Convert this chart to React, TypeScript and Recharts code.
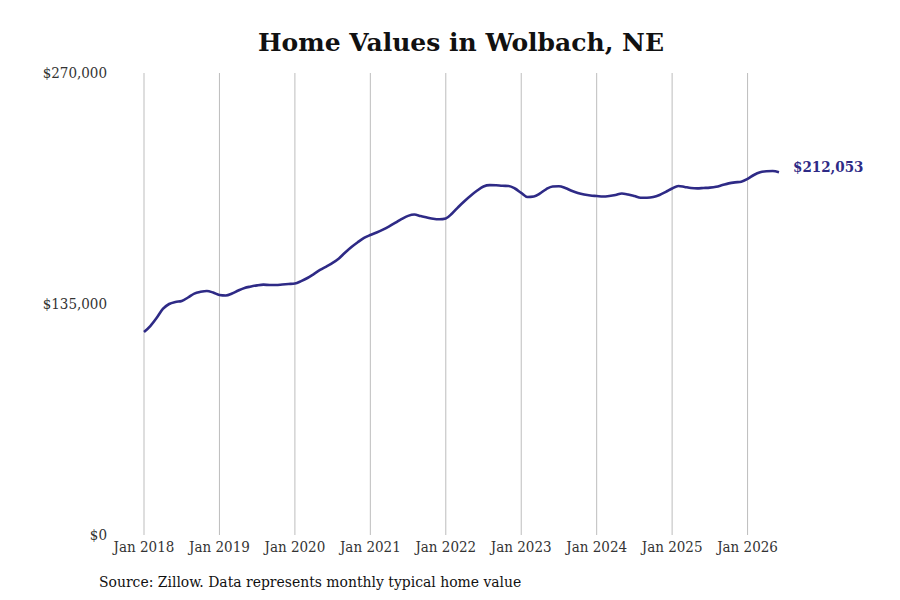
import { Line, LineChart, ReferenceLine, XAxis, YAxis } from "recharts";

// Monthly typical home value, Jan 2018 .. Jun 2026
const values = [
  118600, 122100, 126800, 132100, 135000, 136200, 136800, 138800, 141100, 142100, 142600, 141700,
  140300, 140000, 141100, 142900, 144400, 145200, 145900, 146300, 146100, 146100, 146400, 146700,
  147000, 148400, 150200, 152500, 154900, 156900, 159000, 161600, 165100, 168300, 171100, 173600,
  175300, 176800, 178500, 180400, 182500, 184700, 186500, 187300, 186400, 185600, 184800, 184500,
  185000, 187900, 191700, 195200, 198400, 201300, 203700, 204500, 204400, 204100, 204000, 202500,
  199900, 197500, 197800, 199600, 202200, 203700, 203800, 202800, 201200, 199900, 199000, 198400,
  198100, 197800, 198100, 198700, 199600, 199000, 198100, 197100, 197100, 197500, 198700, 200500,
  202500, 204000, 203400, 202800, 202600, 202800, 203000, 203500, 204500, 205500, 206100, 206500,
  208100, 210400, 212000, 212600, 212700, 212053,
];

const xTicks = [0, 12, 24, 36, 48, 60, 72, 84, 96];
const xTickLabels = [
  "Jan 2018", "Jan 2019", "Jan 2020", "Jan 2021", "Jan 2022",
  "Jan 2023", "Jan 2024", "Jan 2025", "Jan 2026",
];
const yTicks = [0, 135000, 270000];

const data = values.map((value, i) => ({ m: i, value }));

const LINE = "#2e2a86";
const FONT = "'DejaVu Serif Condensed', 'DejaVu Serif', serif";
const money = (v: number) => "$" + v.toLocaleString("en-US");

function YTick(props: any) {
  const { y, payload } = props;
  return (
    <text x={107} y={y} dy={5} textAnchor="end" fill="#333" fontSize={15}
      fontFamily={FONT} style={{ fontStretch: "condensed" }}>
      {money(payload.value)}
    </text>
  );
}

function EndLabel(props: any) {
  const { x, y, index } = props;
  if (index !== values.length - 1) return null;
  return (
    <text x={x + 14} y={y} dy={0} fill={LINE} fontSize={15} fontWeight="bold"
      fontFamily={FONT} style={{ fontStretch: "condensed" }}>
      {money(values[values.length - 1])}
    </text>
  );
}

export default function App() {
  return (
    <div style={{ position: "relative", width: 900, height: 600, background: "#fff" }}>
      <style>{"body{margin:0}"}</style>
      <div style={{ position: "absolute", top: 28, left: 0, width: 922, textAlign: "center",
        fontFamily: "'DejaVu Serif', serif", fontWeight: "bold", fontSize: 25, color: "#111" }}>
        Home Values in Wolbach, NE
      </div>
      <LineChart width={900} height={600} data={data}
        margin={{ top: 73, right: 121, bottom: 35, left: 84 }}>
        {xTicks.map((t) => (
          <ReferenceLine key={t} x={t} stroke="#bdbdbd" strokeWidth={1} />
        ))}
        <XAxis dataKey="m" type="number" domain={[0, 101]} ticks={xTicks}
          tickFormatter={(v: number) => xTickLabels[xTicks.indexOf(v)]}
          axisLine={false} tickLine={false} height={30} tickMargin={0}
          tick={{ fill: "#333", fontSize: 15, fontFamily: FONT, style: { fontStretch: "condensed" } }} />
        <YAxis type="number" domain={[0, 270000]} ticks={yTicks} width={60}
          axisLine={false} tickLine={false} tick={<YTick />} />
        <Line type="monotone" dataKey="value" stroke={LINE} strokeWidth={2.6}
          dot={false} isAnimationActive={false} label={<EndLabel />} />
      </LineChart>
      <div style={{ position: "absolute", top: 573, left: 99, fontFamily: FONT,
        fontStretch: "condensed", fontSize: 15.5, color: "#111" }}>
        Source: Zillow. Data represents monthly typical home value
      </div>
    </div>
  );
}
